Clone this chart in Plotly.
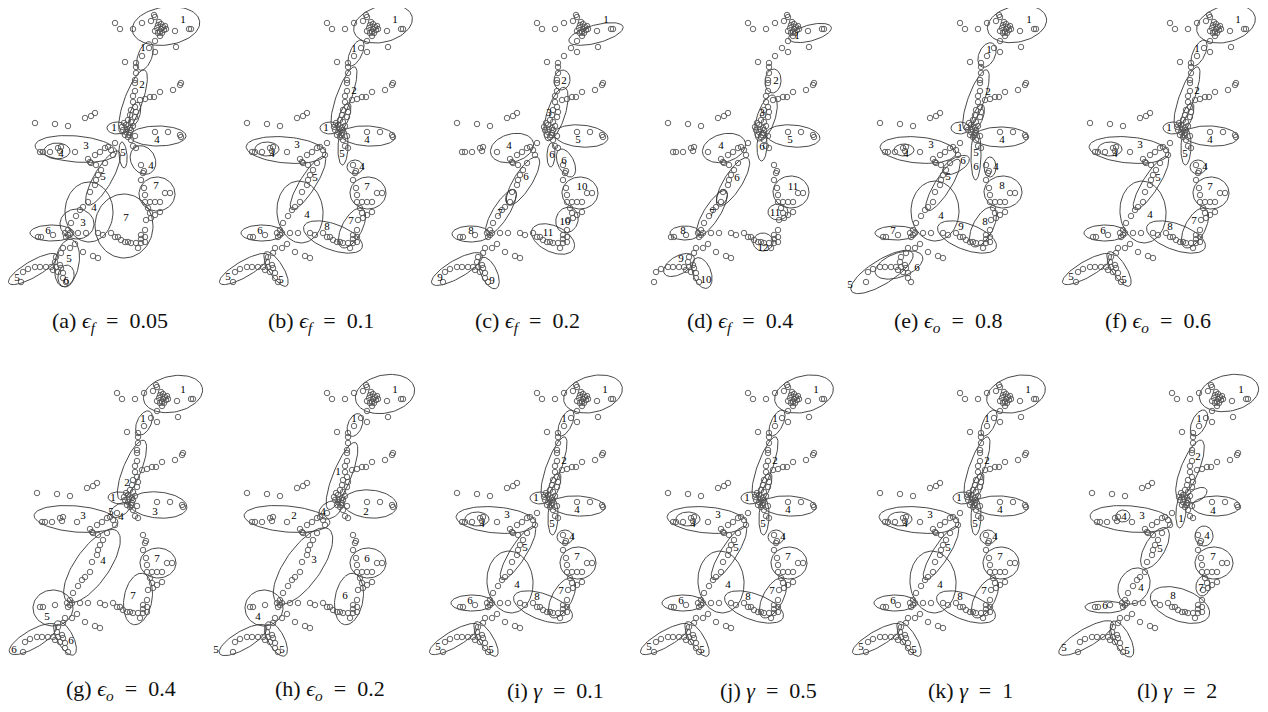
import numpy as np
import plotly.graph_objects as go

# ---------------- shared data points (panel-local coordinates) ----------------
PX = [117,122,135,144,153,156,157,
      160,163,165,159,163,166,157,162,164,168,160,167,161,
      177,191,193,157,162,178,151,157,144,127,138,138,138,137,137,137,135,135,142,147,152,156,162,175,182,183,
      137,133,138,132,137,
      130,133,128,132,125,128,132,127,130,124,133,126,135,129,131,
      117,133,135,138,
      137,157,170,182,183,
      37,57,70,87,93,97,
      42,45,52,60,63,62,77,90,92,97,102,107,110,113,115,93,
      98,107,103,100,98,97,92,90,85,82,78,73,70,72,70,80,88,100,105,
      40,43,55,67,68,
      72,77,65,63,85,95,100,
      58,57,53,48,42,37,30,25,23,55,58,62,63,60,65,65,68,
      143,146,145,143,146,147,147,152,157,162,167,172,150,152,153,157,162,148,147,143,147,143,147,143,140,138,133,130,127,123,120,117,113]
PY = [23,29,29,23,21,15,17,
      25,24,27,28,29,30,31,32,33,29,33,26,22,
      31,29,29,41,36,47,48,52,56,62,63,67,73,80,83,91,96,102,100,99,97,97,92,90,85,83,
      107,110,112,115,117,
      120,122,125,128,130,132,133,135,137,127,130,123,126,129,135,
      143,140,146,148,
      136,132,132,135,137,
      123,124,126,118,116,113,
      152,152,152,148,147,151,152,159,162,155,152,148,147,150,155,163,
      165,163,170,175,180,185,192,202,207,210,216,223,230,233,235,233,233,233,235,
      237,237,235,233,237,
      248,244,248,253,252,256,258,
      257,262,267,267,267,267,269,272,282,270,267,265,268,272,273,278,282,
      165,171,173,180,188,195,202,202,202,202,193,193,208,213,218,215,212,220,230,235,237,239,242,243,248,243,243,242,242,240,237,237,233]

# ---------------- cluster ellipses: (cx, cy, a, b, angle_deg, label, lx, ly) ----------------
ELL_A = [(166,26,34,19,8,'1',183,20),(145,56,15,7,70,'1',143,48),(133,102,34,9,70,'2',142,85),
         (135,114,12,5,75,'',0,0),(117,128,10,6,0,'1',114,128),(158,136,28,10,0,'4',157,140),
         (76,149,41,13,-5,'3',86,146),(57,151,13,8,0,'4',61,154),(123,155,13,4,-85,'5',123,153),
         (143,160,15,12,-60,'4',151,166),(157,194,18,17,0,'7',156,186),(103,178,31,9,60,'5',103,177),
         (89,212,30,24,90,'4',94,208),(77,224,17,15,0,'3',83,223),(124,226,32,29,90,'7',126,218),
         (52,233,22,8,0,'6',48,231),(67,263,24,12,80,'5',69,259),(66,276,11,8,80,'6',66,281),
         (33,269,28,8,30,'5',17,278)]
ELL_B = [(173,24,30,18,15,'1',185,20),(146,53,14,6,65,'1',144,49),(134,97,32,7.5,70,'2',144,91),
         (134,117,15,5,70,'',0,0),(120,128,10,6,0,'1',116,128),(158,136,27,10,-3,'4',157,140),
         (133,147,18,5,88,'5',132,154),(76,150,40,13,-5,'3',87,145),(57,149,12,7,0,'4',62,154),
         (98,183,31,8,58,'5',105,178),(90,212,23,31,5,'4',97,215),(52,233,21,8,0,'6',50,231),
         (145,167,8,7,0,'4',152,167),(158,193,18,16,0,'7',157,187),(142,228,22,10,62,'7',141,221),
         (123,237,31,13,-20,'8',117,227),(34,269,28,8,30,'5',18,277),(66,269,20,7,-58,'5',71,280)]
ELL_C = [(176,34,28,9,15,'1',186,20),(142,80,10,8,80,'2',144,81),(136,114,28,9,72,'3',129,113),
         (161,136,27,11,-5,'5',158,140),(92,148,22,14,15,'4',89,146),(131,155,12,4,88,'6',132,155),
         (146,163,15,8,-65,'6',144,161),(103,181,28,9,58,'6',106,177),(91,197,8,5,70,'',0,0),
         (81,212,26,8,58,'7',80,213),(51,234,19,8,0,'8',51,231),(160,193,18,16,0,'10',162,187),
         (147,220,13,11,70,'10',145,222),(133,239,23,13,-25,'11',128,233),(37,269,29,9,30,'9',20,278),
         (69,273,17,8,-65,'9',72,281)]
ELL_D = [(180,33,22,8,15,'1',167,36),(143,81,12,8,85,'2',146,81),(136,118,24,9,72,'3',132,113),
         (163,136,27,11,-5,'5',160,140),(132,146,15,5,88,'6',132,147),(94,148,22,14,15,'4',91,146),
         (103,182,28,9,58,'6',107,178),(92,197,8,5,70,'',0,0),(82,213,26,8,58,'7',82,213),
         (55,233,15,7,0,'8',53,231),(161,192,18,16,0,'11',163,187),(148,212,10,8,0,'11',145,213),
         (133,242,10,9,0,'12',133,248),(49,265,17,9,30,'9',51,259),(72,273,16,9,-70,'10',76,280)]
ELL_E = [(177,24,30,18,12,'1',189,20),(147,55,13,8,65,'1',149,50),(136,100,32,8,70,'2',148,92),
         (138,117,13,5,70,'',0,0),(120,128,9,6,0,'1',120,128),(161,137,27,10,0,'4',162,140),
         (136,155,25,5,89,'5<br>6',136,160),(78,150,38,13,-5,'3',91,145),(64,150,10,6,0,'4',66,154),
         (116,165,15,7,30,'6',123,161),(103,185,30,8,58,'5',108,177),(95,211,24,30,0,'4',101,216),
         (150,167,6,10,0,'4',156,167),(163,192,19,16,0,'8',162,186),(143,227,22,10,62,'8',145,222),
         (127,237,31,13,-20,'9',121,227),(56,233,21,7,0,'7',53,231),(42,272,36,12,32,'5',10,285),
         (59,265,25,12,20,'6',77,268)]
ELL_G = [(173,28,30,18,12,'1',183,24),(144,57,13,7,65,'1',143,53),(132,104,32,9,68,'2',127,117),
         (120,132,12,6,-5,'1',113,132),(158,139,29,13,-5,'3',155,146),(76,153,42,13,-5,'3',83,150),
         (120,144,11,6,30,'5',111,146),(0,0,0,0,0,'4',121,151),(92,200,43,17,55,'4',103,195),
         (158,197,18,15,0,'7',157,193),(138,233,26,14,80,'7',133,230),(53,242,20,18,0,'5',47,251),
         (33,273,27,9,30,'6',14,284),(65,272,19,8,-62,'6',71,275)]
ELL_H = [(175,28,30,19,12,'1',185,24),(145,59,12,7,68,'1',144,53),(132,110,36,9,68,'1',128,106),
         (160,138,27,14,-5,'2',156,146),(77,153,43,13,-5,'2',84,150),(120,144,12,8,30,'4',113,146),
         (93,200,45,18,55,'3',104,194),(158,197,18,15,0,'6',157,193),(139,233,26,14,80,'6',135,230),
         (54,242,19,18,0,'4',48,251),(33,274,27,9,30,'5',6,284),(66,273,19,8,-62,'5',72,284)]
ELL_L = [(179,27,30,18,12,'1',191,24),(149,57,14,7,65,'1',149,53),(140,103,31,9,68,'2',148,91),
         (147,129,11,6,30,'',0,0),(166,140,24,10,0,'4',163,145),(131,145,17,5,85,'1',131,153),
         (81,153,41,13,-5,'3',92,150),(73,150,7,6,0,'4',74,151),(105,182,23,10,60,'5',110,183),
         (84,220,19,15,60,'4',91,222),(55,241,20,6,0,'6',55,240),(154,170,9,10,0,'4',157,170),
         (164,197,19,16,0,'7',163,191),(153,220,10,7,80,'7',151,222),(130,239,31,16,-20,'8',123,230),
         (36,272,31,9,30,'5',14,282),(72,273,20,8,-62,'5',77,285)]

PANEL_ELLIPSES = [ELL_A, ELL_B, ELL_C, ELL_D, ELL_E, ELL_B, ELL_G, ELL_H, ELL_B, ELL_B, ELL_B, ELL_L]
ELL_SHIFT_X = [2, 0, 0, -1, -3, 0, 0, 0, 0, 0, 0, -5]
ELL_SHIFT_Y = [0, 0, 0, 0, 0, 0, -4, -4, 0, 0, 0, -4]

CAPTIONS = ["(a) <i>ϵ<sub>f</sub></i>  =  0.05", "(b) <i>ϵ<sub>f</sub></i>  =  0.1",
            "(c) <i>ϵ<sub>f</sub></i>  =  0.2", "(d) <i>ϵ<sub>f</sub></i>  =  0.4",
            "(e) <i>ϵ<sub>o</sub></i>  =  0.8", "(f) <i>ϵ<sub>o</sub></i>  =  0.6",
            "(g) <i>ϵ<sub>o</sub></i>  =  0.4", "(h) <i>ϵ<sub>o</sub></i>  =  0.2",
            "(i) <i>γ</i>  =  0.1", "(j) <i>γ</i>  =  0.5", "(k) <i>γ</i>  =  1", "(l) <i>γ</i>  =  2"]
CAPTIONS = [c.replace("  ", "\u00a0\u00a0") for c in CAPTIONS]

# ---------------- layout geometry (page pixels; page has an 8px body margin) ----------------
PAGE_W, PAGE_H, BODY = 1268, 712, 8
FW, FH = PAGE_W - 2*BODY, PAGE_H - 2*BODY
ORIG_X = [-2, 210, 420, 631, 843, 1053, 0, 210, 420, 631, 843, 1055]
ORIG_Y = [0, 0, 0, 0, 0, 0, 370, 370, 370, 370, 370, 370]
CAP_X = [110, 321, 527, 740, 948, 1158, 121, 330, 555, 768, 970, 1177]
CAP_Y = [322]*6 + [690]*6

fig = go.Figure()
layout = dict(width=FW, height=FH, autosize=False, margin=dict(l=0, r=0, t=0, b=0),
              paper_bgcolor="white", plot_bgcolor="white", showlegend=False)

t = np.linspace(0, 2*np.pi, 81)
for p in range(12):
    sfx = "" if p == 0 else str(p+1)
    xa_name, ya_name = "x"+sfx, "y"+sfx
    ox, oy = ORIG_X[p], ORIG_Y[p]
    x0 = max(2, BODY - ox); x1 = min(212, PAGE_W - BODY - ox)
    y0 = max(2, BODY - oy); y1 = 300
    layout["xaxis"+sfx] = dict(domain=[(ox+x0-BODY)/FW, (ox+x1-BODY)/FW], range=[x0, x1],
                               visible=False, fixedrange=True)
    layout["yaxis"+sfx] = dict(domain=[1-(oy+y1-BODY)/FH, 1-(oy+y0-BODY)/FH], range=[y1, y0],
                               visible=False, fixedrange=True)
    ex, ey, lx, ly, lt = [], [], [], [], []
    sx, sy = ELL_SHIFT_X[p], ELL_SHIFT_Y[p]
    for (cx, cy, a, b, ang, lab, tx, ty) in PANEL_ELLIPSES[p]:
        if a > 0:
            th = np.radians(ang)
            x = cx + sx + a*np.cos(t)*np.cos(th) - b*np.sin(t)*np.sin(th)
            y = cy + sy - (a*np.cos(t)*np.sin(th) + b*np.sin(t)*np.cos(th))
            ex += list(x) + [None]
            ey += list(y) + [None]
        if lab:
            lx.append(tx + sx); ly.append(ty + sy); lt.append(lab)
    fig.add_trace(go.Scatter(x=ex, y=ey, mode="lines", xaxis=xa_name, yaxis=ya_name,
                             line=dict(color="#333333", width=0.9), hoverinfo="skip"))
    fig.add_trace(go.Scatter(x=PX, y=PY, mode="markers", xaxis=xa_name, yaxis=ya_name,
                             marker=dict(symbol="circle-open", size=5.5, color="#555555",
                                         line=dict(width=0.9)), hoverinfo="skip", cliponaxis=False))
    fig.add_trace(go.Scatter(x=lx, y=ly, mode="text", text=lt, xaxis=xa_name, yaxis=ya_name,
                             textfont=dict(family="Liberation Serif, DejaVu Serif, serif", size=11, color="#000000"),
                             hoverinfo="skip", cliponaxis=False))

annotations = []
for p in range(12):
    annotations.append(dict(text=CAPTIONS[p], x=(CAP_X[p]-BODY)/FW, y=1-(CAP_Y[p]-BODY)/FH,
                            xref="paper", yref="paper", xanchor="center", yanchor="middle", showarrow=False,
                            font=dict(family="Liberation Serif, DejaVu Serif, serif", size=22, color="#111111")))
layout["annotations"] = annotations
fig.update_layout(**layout)
fig.write_html("out.html")
